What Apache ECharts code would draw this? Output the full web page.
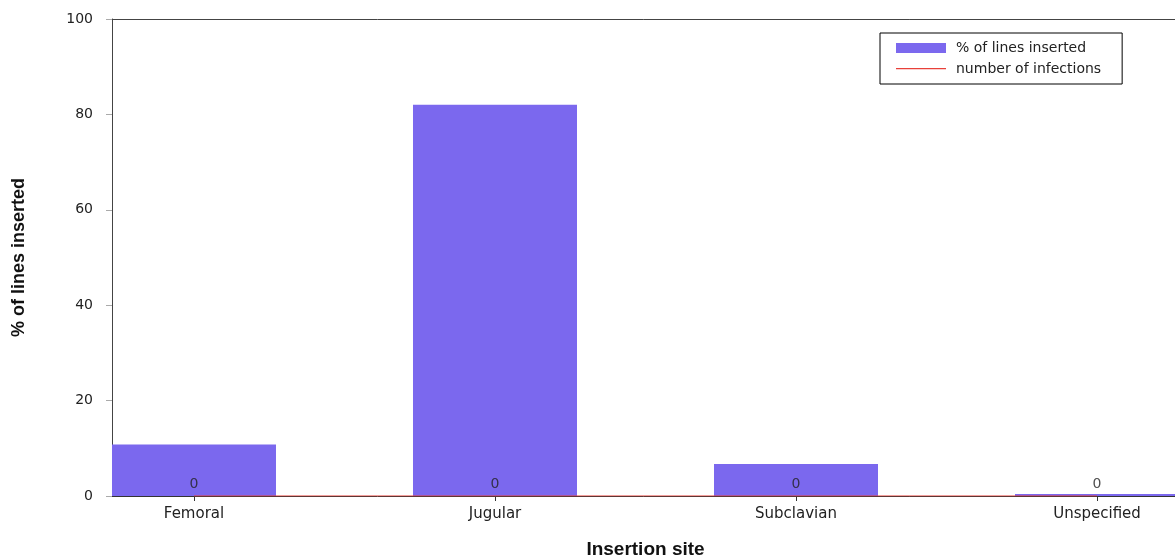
<!DOCTYPE html>
<html>
<head>
<meta charset="utf-8">
<script src="https://cdn.jsdelivr.net/npm/echarts@6/dist/echarts.min.js"></script>
<style>
  html, body { margin: 0; padding: 0; background: #fff; }
  #main { width: 1175px; height: 559px; }
</style>
</head>
<body>
<div id="main"></div>
<script>
// categories and values
var sites = ["Femoral", "Jugular", "Subclavian", "Unspecified"];
var pctInserted = [10.8, 82.0, 6.7, 0.4];
var infections = [0, 0, 0, 0];
var yTicks = [0, 20, 40, 60, 80, 100];

var font = "DejaVu Sans";
var red = "#e8403a";
var xMin = -0.2724, xMax = 3.2724;

//x positions of categories are their index on a value axis
function pairs(vals) {
  return vals.map(function (v, i) { return [i, v]; });
}

//thin line icon for the legend (tiny corner dots keep the 50x10 box)
var lineIcon = "path://M0,0L0.01,0L0.01,0.01Z M0,4H50V5.3H0Z M49.99,9.99L50,9.99L50,10Z";

var chart = echarts.init(document.getElementById("main"), null, {renderer: "canvas"});

var option = {
  backgroundColor: "#fff",
  animation: false,
  textStyle: {fontFamily: font, color: "#222"},
  grid: {
    left: 112, top: 19, right: -4, bottom: 63,
    outerBoundsMode: "none"
  },
  legend: {
    left: 880, top: 33,
    orient: "vertical",
    padding: [8, 21, 8, 16],
    itemGap: 7,
    itemWidth: 50,
    itemHeight: 10,
    borderColor: "#000",
    borderWidth: 1,
    backgroundColor: "#fff",
    textStyle: {fontFamily: font, fontSize: 14, color: "#222", padding: [0, 0, 0, 5]},
    data: [
      {name: "% of lines inserted", icon: "rect"},
      {name: "number of infections", icon: lineIcon}
    ]
  },
  xAxis: [
    {
      type: "value",
      min: xMin,
      max: xMax,
      name: "Insertion site",
      nameLocation: "middle",
      nameGap: 44,
      nameTextStyle: {fontFamily: "Liberation Sans", fontWeight: "bold", fontSize: 19, color: "#111"},
      splitLine: {show: false},
      axisLine: {show: true, onZero: false, lineStyle: {color: "#333"}},
      axisTick: {show: true, length: 5, lineStyle: {color: "#333"}, customValues: [0, 1, 2, 3]},
      axisLabel: {
        customValues: [0, 1, 2, 3],
        margin: 11,
        fontSize: 15,
        color: "#222",
        formatter: function (v) { return sites[Math.round(v)]; }
      }
    },
    {
      //top frame line only
      type: "value",
      position: "top",
      min: xMin,
      max: xMax,
      splitLine: {show: false},
      axisLine: {show: true, onZero: false, lineStyle: {color: "#444"}},
      axisTick: {show: false},
      axisLabel: {show: false}
    }
  ],
  yAxis: {
    type: "value",
    min: 0,
    max: 100,
    interval: 20,
    name: "% of lines inserted",
    nameLocation: "middle",
    nameGap: 84,
    nameTextStyle: {fontFamily: "Liberation Sans", fontWeight: "bold", fontSize: 18, color: "#111"},
    splitLine: {show: false},
    axisLine: {show: true, onZero: false, lineStyle: {color: "#444"}},
    axisTick: {show: true, inside: false, length: 6, lineStyle: {color: "#aaa"}},
    axisLabel: {
      margin: 19,
      fontSize: 14,
      color: "#222"
    }
  },
  series: [
    {
      name: "% of lines inserted",
      type: "bar",
      barWidth: 164,
      data: pairs(pctInserted),
      itemStyle: {color: "#7b68ee"},
      z: 2
    },
    {
      name: "number of infections",
      type: "line",
      data: pairs(infections),
      symbol: "none",
      lineStyle: {color: red, width: 1.2},
      itemStyle: {color: red},
      z: 10
    },
    {
      //labels for the infection counts
      name: "infLabels",
      type: "scatter",
      data: pairs(infections),
      symbolSize: 0,
      label: {
        show: true,
        position: "top",
        distance: 5,
        fontSize: 14,
        color: "#222",
        formatter: function (p) { return p.value[1]; }
      },
      z: 11
    }
  ]
};

chart.setOption(option);
</script>
</body>
</html>
